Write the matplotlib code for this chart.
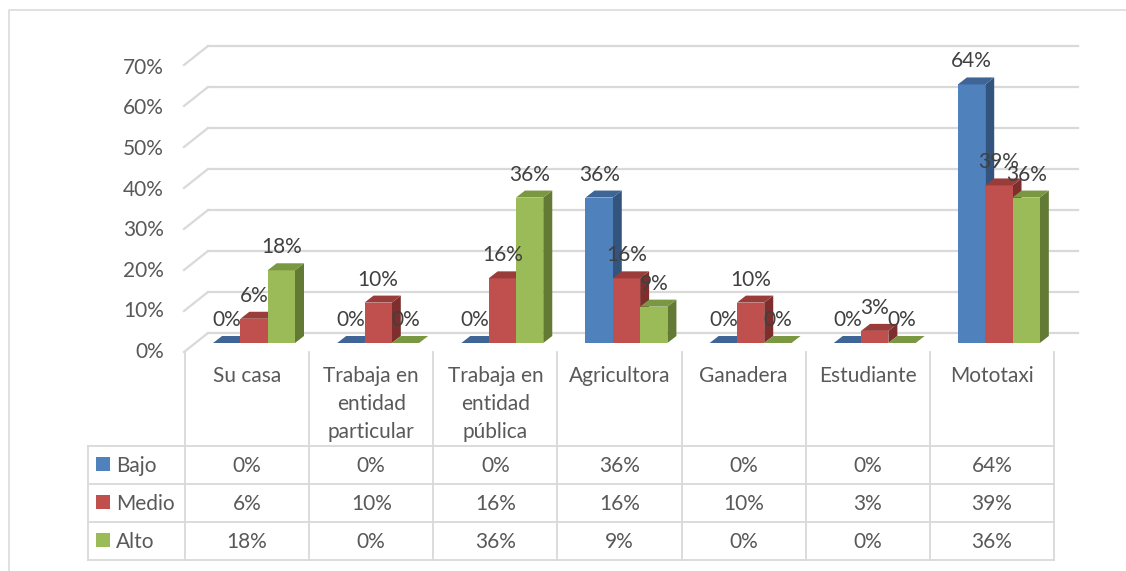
import matplotlib
matplotlib.use("Agg")
import matplotlib.pyplot as plt
from matplotlib.patches import Polygon, Rectangle

categories = ["Su casa", "Trabaja en\nentidad\nparticular", "Trabaja en\nentidad\npública",
              "Agricultora", "Ganadera", "Estudiante", "Mototaxi"]
series = ["Bajo", "Medio", "Alto"]
bajo = [0, 0, 0, 36, 0, 0, 64]
medio = [6, 10, 16, 16, 10, 3, 39]
alto = [18, 0, 36, 9, 0, 0, 36]
yticks = [0, 10, 20, 30, 40, 50, 60, 70]

values = [bajo, medio, alto]
front_col = ["#4F81BD", "#C0504D", "#9BBB59"]
top_col = ["#3E6595", "#9A3C39", "#7A9741"]
side_col = ["#33547D", "#7E2F2D", "#627A33"]
grid_col = "#D9D9D9"
txt_col = "#404040"

plt.rcParams['font.family'] = ['Lato', 'DejaVu Sans']

W, H = 1126, 571
K = 4.04          # pixels per percent for bars
KG = 4.1          # pixels per percent for the walls
CW = 124.14       # column width in pixels
X0 = 247.07       # pixel x of first category centre
BASE = 343        # pixel y of bar base
FS = 15


def X(px):
    return (px - X0) / CW


def Y(py):
    return (BASE - py) / K


fig = plt.figure(figsize=(W / 100, H / 100), dpi=100)
ax = fig.add_axes([0, 0, 1, 1])
ax.set_xlim(X(0), X(W))
ax.set_ylim(Y(H), Y(0))
ax.axis('off')

# outer chart border
ax.plot([X(9), X(9), X(W)], [Y(H), Y(10), Y(10)], color=grid_col, lw=1.1)

# back wall gridlines + side wall
for v in yticks:
    back = Y(333 - KG * v)
    front = Y(352 - KG * v)
    ax.plot([X(208), X(1078)], [back, back], color=grid_col, lw=1.6, zorder=1)
    ax.plot([X(184), X(208)], [front, back], color=grid_col, lw=1.6, zorder=1)
    ax.text(X(164), Y(358 - 4.06 * v), f"{v}%", ha='right', va='baseline',
            fontsize=FS, color="#595959")

# 3d bars
w = 0.22
dx = 9 / CW
dy = 7 / K
for i in range(len(categories)):
    for s in range(3):
        v = values[s][i]
        x = i - 0.274 + s * w
        ax.add_patch(Polygon([(x + w, 0), (x + w + dx, dy), (x + w + dx, v + dy), (x + w, v)],
                             closed=True, fc=side_col[s], ec='none', zorder=3))
        ax.add_patch(Rectangle((x, 0), w, v, fc=front_col[s], ec='none', zorder=3))
        ax.add_patch(Polygon([(x, v), (x + w, v), (x + w + dx, v + dy), (x + dx, v + dy)],
                             closed=True, fc=top_col[s], ec='none', zorder=3))
for i in range(len(categories)):
    for s in range(3):
        v = values[s][i]
        x = i - 0.274 + s * w
        ax.text(x + w / 2, v + 17 / K, f"{v}%", ha='center', va='baseline',
                fontsize=FS, color=txt_col, zorder=5)

# category labels
for i, cat in enumerate(categories):
    for k, line in enumerate(cat.split("\n")):
        ax.text(i, Y(382 + 28 * k), line, ha='center', va='baseline',
                fontsize=FS, color="#595959")

# data table
rows_y = [446, 484, 522, 560]
n = len(categories)
for j in range(n + 1):
    ax.plot([j - 0.5, j - 0.5], [Y(352), Y(560)], color=grid_col, lw=1.3)
ax.plot([X(88), X(88)], [Y(446), Y(560)], color=grid_col, lw=1.3)
for ry in rows_y:
    ax.plot([X(88), n - 0.5], [Y(ry), Y(ry)], color=grid_col, lw=1.3)

for s, name in enumerate(series):
    base = 472 + 38 * s
    ax.add_patch(Rectangle((X(96), Y(base - 1)), X(110) - X(96), Y(base - 15) - Y(base - 1),
                           fc=front_col[s], ec='none'))
    ax.text(X(116), Y(base), name, ha='left', va='baseline', fontsize=FS, color="#595959")
    for i in range(n):
        ax.text(i, Y(base), f"{values[s][i]}%", ha='center', va='baseline',
                fontsize=FS, color="#595959")

fig.savefig("out.png", dpi=100)
